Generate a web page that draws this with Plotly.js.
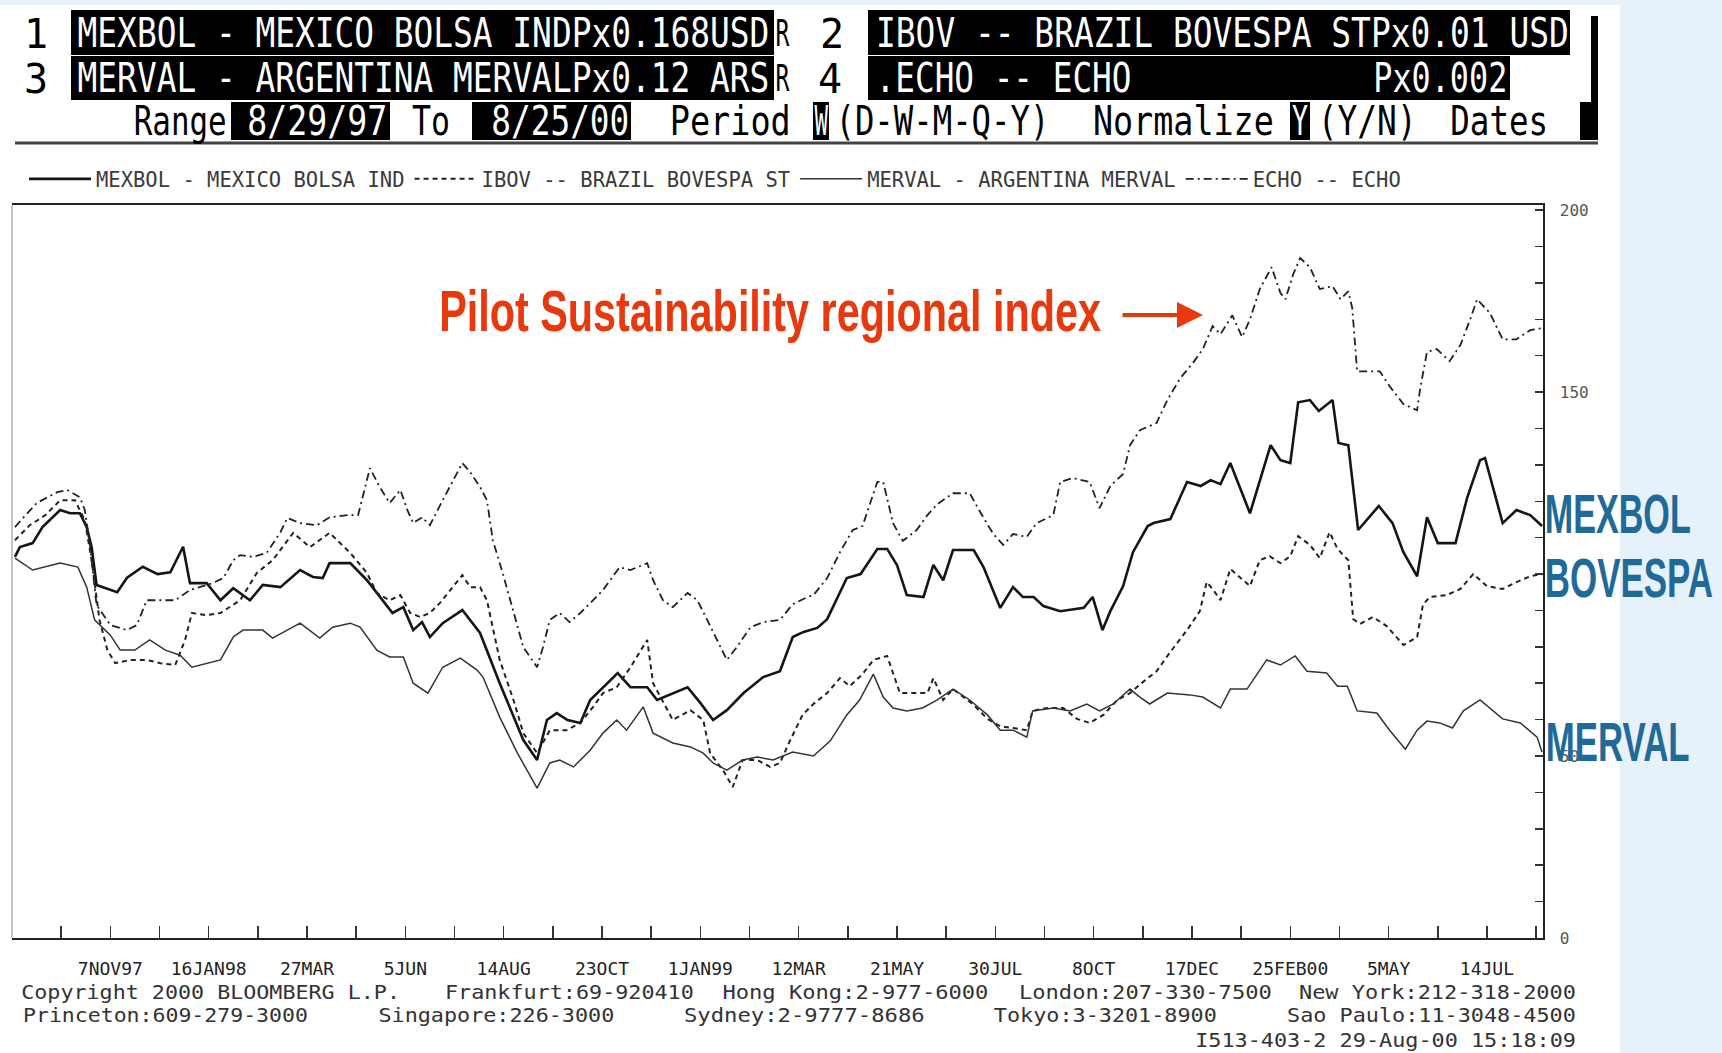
<!DOCTYPE html>
<html>
<head>
<meta charset="utf-8">
<script src="https://cdn.plot.ly/plotly-3.0.1.min.js"></script>
<style>
  html, body { margin: 0; padding: 0; background: #e6f1fa; }
  #chart { width: 1722px; height: 1053px; }
</style>
</head>
<body>
<div id="chart"></div>
<script>
// weekly, normalized, 8/29/97 = week 0 .. 8/25/00 = week 156
var seriesNames = ["MEXBOL - MEXICO BOLSA IND", "IBOV -- BRAZIL BOVESPA ST", "MERVAL - ARGENTINA MERVAL", "ECHO -- ECHO"];
var xTickLabels = ["7NOV97", "16JAN98", "27MAR", "5JUN", "14AUG", "23OCT", "1JAN99", "12MAR",
                   "21MAY", "30JUL", "8OCT", "17DEC", "25FEB00", "5MAY", "14JUL"];
// the 100 label sits under the BOVESPA note in the scan
var yTickLabels = ["0", "50", "", "150", "200"];

var mexbolWeeks = [0.3,0.8,2.1,3.1,4.9,5.9,6.9,7.6,8.1,8.6,10.7,11.7,13.3,14.8,16.1,17.4,18.1,19.8,21.2,22.5,24.2,25.5,27.3,29.3,30.6,31.6,32.3,34.4,36.1,37.7,38.7,
  39.8,40.8,41.7,42.5,43.8,45.8,47.6,49.6,52.0,53.4,54.4,55.4,56.5,57.8,58.8,60.1,61.6,62.9,64.6,65.6,67.2,68.7,70.0,71.3,72.7,74.4,76.4,
  78.1,79.4,80.5,81.9,82.9,84.9,86.3,88.0,89.0,90.0,91.0,92.7,93.7,94.7,95.7,97.8,98.8,100.5,101.8,102.8,103.9,104.9,106.6,109.0,109.9,110.9,111.7,113.0,114.0,115.5,116.1,
  117.8,119.5,120.9,121.9,122.9,123.9,125.9,128.0,129.0,130.0,130.8,132.0,132.9,134.3,134.9,135.9,136.9,139.0,140.4,141.5,142.9,143.9,145.0,146.8,148.0,149.3,149.8,151.6,153.0,154.4,155.6];
var mexbolValues = [104.7,107.4,108.5,112.9,117.6,116.7,116.7,112.9,107.4,97.0,95.0,99.0,102.0,100.0,100.5,107.5,97.5,97.5,92.8,96.1,92.8,97.0,96.4,101.1,99.2,98.9,103.0,103.0,98.3,92.8,89.3,
  90.9,84.6,86.8,82.7,86.5,90.1,83.8,70.0,54.4,48.9,59.9,61.8,59.9,59.1,65.4,68.9,72.8,68.9,68.9,65.4,67.3,68.9,64.6,59.9,62.6,67.3,71.7,
  73.3,82.7,84.1,85.2,87.6,98.9,100.0,106.9,106.9,102.5,94.2,93.7,102.5,98.3,106.6,106.6,101.9,90.7,96.4,93.7,93.7,91.2,89.8,90.7,93.7,84.6,89.8,96.7,106.0,113.2,114.0,
  115.1,125.3,124.2,125.8,124.7,130.5,116.7,135.4,131.3,130.5,147.2,147.8,144.8,147.8,136.0,135.4,112.1,118.7,114.0,106.0,99.4,115.6,108.5,108.5,121.1,131.3,131.9,114.0,117.6,116.2,113.2];

var ibovWeeks = [0.3,1.8,3.4,4.9,6.4,7.4,8.1,8.9,9.7,10.5,12.0,13.7,15.1,16.6,17.6,18.3,19.8,21.2,23.2,24.9,26.5,28.0,28.6,30.3,32.3,34.4,36.1,37.1,38.4,
  39.5,40.5,41.5,42.5,43.5,45.8,46.6,47.6,48.3,49.6,51.0,52.0,53.4,54.7,56.4,57.8,59.1,60.1,61.5,62.9,64.6,65.2,67.2,69.0,70.3,71.0,72.3,73.3,74.3,75.8,77.1,
  78.1,79.1,80.4,81.5,82.9,84.2,85.2,86.5,87.6,89.0,89.6,90.3,91.6,93.1,93.7,94.7,95.7,97.7,99.2,100.5,101.8,103.2,103.8,105.3,106.9,108.3,109.6,111.0,112.4,113.7,115.0,116.4,
  117.8,119.5,120.8,121.5,122.1,122.9,123.9,125.9,126.9,127.9,129.0,130.0,130.8,132.0,133.0,134.0,134.8,135.9,136.4,137.1,138.4,139.8,141.5,142.9,143.5,144.2,145.9,147.3,148.6,150.0,151.6,153.0,154.4,155.6];
var ibovValues = [109.3,113.4,116.2,120.3,120.3,114.8,103.8,87.4,79.1,75.5,76.4,76.4,75.5,75.0,81.9,89.3,88.7,89.3,92.8,100.3,103.8,109.3,111.3,107.4,111.3,105.8,100.3,94.8,92.8,
  94.2,89.3,88.2,89.3,92.0,99.7,96.4,96.4,92.8,76.4,65.4,56.3,50.8,57.1,57.1,59.1,63.5,67.3,68.9,74.4,81.9,70.0,59.9,62.6,59.9,50.8,46.1,41.5,48.9,48.9,47.0,
  48.1,54.1,61.3,64.3,67.3,71.4,69.2,72.5,76.4,77.5,72.5,67.3,67.3,67.3,71.4,65.4,68.4,64.3,60.2,58.2,57.7,57.1,62.4,63.2,63.2,60.2,59.1,61.3,65.4,67.3,70.3,73.3,
  78.6,84.6,89.8,97.8,95.9,92.8,101.4,96.7,103.8,104.9,103.0,104.9,110.4,108.0,104.4,111.5,106.9,103.8,87.6,86.3,88.2,85.7,80.5,82.7,91.7,93.7,94.2,95.9,100.0,96.7,95.9,97.8,99.4,100.0];

var mervalWeeks = [0.3,2.1,4.9,6.7,7.6,8.4,10.0,11.0,12.5,14.0,15.6,17.1,18.3,19.8,21.2,22.5,23.5,25.5,26.5,29.3,31.3,32.6,34.4,35.4,37.1,38.4,
  39.8,40.8,42.3,43.8,45.6,47.3,47.9,49.6,51.4,53.4,54.7,55.7,57.1,58.8,60.1,61.5,62.5,64.2,65.2,67.2,69.0,70.3,71.3,72.7,74.3,75.8,77.4,
  79.4,81.5,83.2,84.9,86.2,87.6,88.6,89.6,91.0,92.6,94.1,95.7,97.4,99.2,100.5,101.8,103.2,103.8,105.9,107.6,109.3,110.6,112.0,113.7,114.7,115.7,117.5,
  119.8,121.1,122.9,123.9,125.6,127.6,129.0,130.5,131.7,133.7,134.8,135.8,136.8,138.8,140.1,141.7,142.9,143.9,145.2,146.5,147.6,149.3,150.6,151.6,153.4,155.1,155.6];
var mervalValues = [104.4,101.1,103.0,101.9,96.4,87.4,83.2,79.1,79.1,81.9,79.1,77.7,74.4,75.5,76.4,82.7,84.6,84.6,82.4,86.5,82.4,85.4,86.5,85.4,79.1,77.2,
  77.2,70.0,67.3,74.4,76.9,73.6,71.7,60.7,50.8,41.2,48.1,48.9,47.0,51.6,56.3,59.9,57.1,63.5,56.3,53.6,52.5,50.8,48.1,46.1,48.9,49.7,48.9,
  51.1,50.0,54.1,61.3,65.4,72.5,66.2,63.2,62.4,63.2,65.4,68.4,65.4,61.3,57.1,57.1,55.2,62.4,63.2,62.4,64.3,62.4,64.3,68.4,66.2,64.3,67.3,
  66.8,66.2,63.2,68.4,68.4,76.4,75.0,77.5,73.3,72.8,69.2,69.2,62.4,61.8,57.1,51.9,57.1,59.6,59.1,57.7,62.4,65.4,62.6,60.2,59.1,55.2,51.1];

var echoWeeks = [0.3,2.5,4.6,5.6,6.9,7.4,7.9,8.6,10.0,11.7,12.7,13.7,15.1,16.6,18.1,20.4,21.5,22.5,23.2,24.5,25.9,27.3,28.0,29.3,31.0,32.3,34.1,35.2,36.4,37.4,38.4,
  39.5,40.2,40.8,41.7,42.5,43.8,45.8,46.6,47.6,48.3,48.9,49.9,51.0,52.0,53.4,54.0,54.7,55.7,56.7,57.8,58.8,60.1,61.8,62.9,64.6,65.2,66.2,67.2,68.7,69.7,70.7,72.7,73.7,75.1,76.4,
  78.1,79.4,80.9,81.5,82.9,84.2,85.5,86.5,88.0,88.6,89.6,90.6,92.0,93.1,94.1,95.7,97.4,98.4,99.8,100.8,101.8,103.2,104.2,105.9,106.6,107.9,109.6,110.6,111.7,113.0,113.7,114.7,116.4,117.5,
  118.8,120.1,121.1,122.1,122.9,124.1,125.1,125.9,126.9,128.1,129.0,129.5,130.3,131.0,132.0,133.0,134.3,135.1,135.9,136.3,136.8,138.1,139.1,140.1,141.5,142.9,143.2,143.9,144.9,146.2,147.3,148.3,149.0,150.3,151.6,153.0,154.4,155.6];
var echoValues = [112.9,119.5,122.5,123.1,121.1,117.6,108.5,91.5,86.0,84.6,86.0,92.8,92.8,92.8,95.6,97.5,98.9,103.8,105.2,104.7,105.8,111.5,115.4,114.0,113.4,115.6,116.2,116.2,129.1,123.9,119.5,
  123.1,117.6,114.0,115.6,113.4,120.3,130.5,128.0,123.9,120.3,109.3,100.3,89.3,79.9,74.4,79.9,87.4,89.3,86.8,89.3,92.0,95.6,101.9,101.1,103.0,98.3,92.8,90.9,94.8,92.8,87.4,76.4,79.9,85.4,86.8,
  87.4,91.7,93.7,94.2,98.9,106.0,112.1,113.2,125.3,125.3,114.0,109.1,112.1,116.2,119.2,122.2,122.2,117.3,111.0,108.0,111.0,110.2,114.0,116.2,125.3,126.4,125.3,118.1,124.2,127.5,135.4,139.5,141.5,147.8,
  153.8,158.0,161.8,168.1,165.9,171.1,165.1,170.0,178.3,184.3,177.2,175.5,182.4,186.8,184.3,178.3,179.1,175.5,177.7,173.1,155.7,155.7,155.7,151.6,146.7,145.0,150.8,161.0,161.8,158.5,162.9,170.0,175.5,171.7,164.5,164.5,167.0,167.6];

// page geometry (pixels) of the plot box
var W = 1722, H = 1053, PL = 12, PR = 1543, PT = 205, PB = 938;
function px(x) { return (x - PL) / (PR - PL); }
function py(y) { return (PB - y) / (PB - PT); }

var MONO = "DejaVu Sans Mono, Liberation Mono, monospace";
var BOLD = "Liberation Sans Narrow, Liberation Sans, Arial, sans-serif";
var annotations = [];
var fitWidths = [];   // target pixel width for each annotation (null = natural)
var shapes = [];

function label(text, cx, cy, size, color, family, weight, fitW) {
  annotations.push({
    xref: "paper", yref: "paper", x: px(cx), y: py(cy),
    xanchor: "center", yanchor: "middle", showarrow: false, text: text,
    font: {family: family || MONO, size: size, color: color, weight: weight || 400}
  });
  fitWidths.push(fitW || null);
}
function box(x0, y0, x1, y1, fill, layer) {
  shapes.push({type: "rect", xref: "paper", yref: "paper",
    x0: px(x0), x1: px(x1), y0: py(y1), y1: py(y0),
    fillcolor: fill, line: {width: 0}, layer: layer || "above"});
}
function hline(x0, x1, y, color, width) {
  shapes.push({type: "line", xref: "paper", yref: "paper", x0: px(x0), x1: px(x1), y0: py(y), y1: py(y),
    line: {color: color, width: width}});
}

// scanned white sheet
box(0, 5, 1620, 1053, "#ffffff", "below");

// Bloomberg header
box(71, 10, 774, 55, "#000");
box(868, 10, 1570, 55, "#000");
box(71, 56, 774, 100, "#000");
box(868, 56, 1510, 100, "#000");
box(1591, 16, 1598, 140, "#000");
box(231, 102, 390, 140, "#000");
box(472, 102, 631, 140, "#000");
box(813, 102, 829, 140, "#000");
box(1290, 102, 1310, 140, "#000");
box(1580, 102, 1598, 140, "#000");
hline(15, 1598, 143, "#444", 3);
// faint left frame of the plot box
shapes.push({type: "line", xref: "paper", yref: "paper", x0: 0, x1: 0, y0: 0, y1: 1,
  line: {color: "#9a9a9a", width: 1.2}});

label("1", 36, 34, 40, "#000");
label("MEXBOL - MEXICO BOLSA INDPx0.168USD", 423, 33, 40, "#fff", MONO, 400, 692);
label("R", 782, 33, 38, "#000", MONO, 400, 14);
label("2", 832, 34, 40, "#000");
label("IBOV -- BRAZIL BOVESPA STPx0.01 USD", 1222, 33, 40, "#fff", MONO, 400, 693);
label("3", 36, 79, 40, "#000");
label("MERVAL - ARGENTINA MERVALPx0.12 ARS", 423, 78, 40, "#fff", MONO, 400, 692);
label("R", 782, 78, 38, "#000", MONO, 400, 14);
label("4", 830, 79, 40, "#000");
label(".ECHO -- ECHO", 1003, 78, 40, "#fff", MONO, 400, 256);
label("Px0.002", 1440, 78, 40, "#fff", MONO, 400, 134);
label("Range", 180, 121, 40, "#000", MONO, 400, 93);
label("8/29/97", 317, 121, 40, "#fff", MONO, 400, 140);
label("To", 431, 121, 40, "#000", MONO, 400, 38);
label("8/25/00", 560, 121, 40, "#fff", MONO, 400, 138);
label("Period", 730, 121, 40, "#000", MONO, 400, 121);
label("W", 821, 121, 40, "#fff", MONO, 400, 14);
label("(D-W-M-Q-Y)", 942, 121, 40, "#000", MONO, 400, 214);
label("Normalize", 1183, 121, 40, "#000", MONO, 400, 181);
label("Y", 1300, 121, 40, "#fff", MONO, 400, 16);
label("(Y/N)", 1367, 121, 40, "#000", MONO, 400, 99);
label("Dates", 1499, 121, 40, "#000", MONO, 400, 98);

// overlay notes
label("Pilot Sustainability regional index", 770, 310, 58, "#e8380d", BOLD, 700, 662);
annotations.push({xref: "paper", yref: "paper", x: px(1203), y: py(315), ax: -82, ay: 0,
  text: "", showarrow: true, arrowhead: 2, arrowsize: 1.3, arrowwidth: 4, arrowcolor: "#e8380d"});
fitWidths.push(null);
label("MEXBOL", 1618, 513, 56, "#1f6a99", BOLD, 700, 146);
label("BOVESPA", 1629, 577, 56, "#1f6a99", BOLD, 700, 168);
label("MERVAL", 1617, 741, 56, "#1f6a99", BOLD, 700, 144);

// footer
label("Copyright 2000 BLOOMBERG L.P.", 211, 992, 20, "#333", MONO, 400, 379);
label("Frankfurt:69-920410", 569, 992, 20, "#333", MONO, 400, 249);
label("Hong Kong:2-977-6000", 855, 992, 20, "#333", MONO, 400, 266);
label("London:207-330-7500", 1145, 992, 20, "#333", MONO, 400, 253);
label("New York:212-318-2000", 1437, 992, 20, "#333", MONO, 400, 277);
label("Princeton:609-279-3000", 165, 1015, 20, "#333", MONO, 400, 285);
label("Singapore:226-3000", 497, 1015, 20, "#333", MONO, 400, 236);
label("Sydney:2-9777-8686", 804, 1015, 20, "#333", MONO, 400, 241);
label("Tokyo:3-3201-8900", 1105, 1015, 20, "#333", MONO, 400, 223);
label("Sao Paulo:11-3048-4500", 1431, 1015, 20, "#333", MONO, 400, 289);
label("I513-403-2 29-Aug-00 15:18:09", 1385, 1040, 20, "#333", MONO, 400, 381);

// axis ticks: every 5 weeks on x (labels every 10), every 10 on y (labels every 50)
var xTickVals = [], xTickText = [];
for (var w = 5; w <= 155; w += 5) {
  xTickVals.push(w);
  xTickText.push(w % 10 === 0 ? (xTickLabels[w / 10 - 1] || "") : "");
}
var yTickVals = [], yTickText = [];
for (var v = 0; v <= 200; v += 10) {
  yTickVals.push(v);
  yTickText.push(v % 50 === 0 ? yTickLabels[v / 50] : "");
}

var traces = [
  {x: mexbolWeeks, y: mexbolValues, name: seriesNames[0], mode: "lines",
   line: {color: "#151515", width: 2.6}},
  {x: ibovWeeks, y: ibovValues, name: seriesNames[1], mode: "lines",
   line: {color: "#222", width: 2, dash: "5px,4px"}},
  {x: mervalWeeks, y: mervalValues, name: seriesNames[2], mode: "lines",
   line: {color: "#333", width: 1.5}},
  {x: echoWeeks, y: echoValues, name: seriesNames[3], mode: "lines",
   line: {color: "#222", width: 1.8, dash: "8px,4px,2px,4px"}}
];

var layout = {
  width: W, height: H,
  margin: {l: PL, r: W - PR, t: PT, b: H - PB, pad: 0},
  paper_bgcolor: "#e6f1fa",
  plot_bgcolor: "#ffffff",
  showlegend: true,
  legend: {orientation: "h", x: px(24), y: py(179), xanchor: "left", yanchor: "middle",
    font: {family: MONO, size: 20.5, color: "#3a3a3a"}, bgcolor: "rgba(0,0,0,0)",
    itemwidth: 62, traceorder: "normal"},
  xaxis: {range: [0, 155.7], tickvals: xTickVals, ticktext: xTickText,
    ticks: "inside", ticklen: 12, tickwidth: 1.5, tickcolor: "#333",
    showline: true, mirror: true, linecolor: "#222", linewidth: 1.6,
    showgrid: false, zeroline: false, ticklabelstandoff: 14,
    tickfont: {family: MONO, size: 18, color: "#222"}},
  yaxis: {range: [0, 201.4], side: "right", tickvals: yTickVals, ticktext: yTickText,
    ticks: "inside", ticklen: 8, tickwidth: 1.5, tickcolor: "#333",
    showline: true, mirror: false, linecolor: "#222", linewidth: 1.6,
    showgrid: false, zeroline: false, ticklabelstandoff: 12,
    tickfont: {family: MONO, size: 16, color: "#555"}},
  shapes: shapes,
  annotations: annotations
};

Plotly.newPlot("chart", traces, layout, {staticPlot: true}).then(function (gd) {
  // squeeze texts horizontally to the condensed widths of the scan
  gd.querySelectorAll(".annotation").forEach(function (g) {
    var i = +g.getAttribute("data-index");
    var target = fitWidths[i];
    var t = g.querySelector("text.annotation-text");
    if (!target || !t) return;
    var bw = t.getBBox().width;
    if (!bw) return;
    t.style.transformBox = "fill-box";
    t.style.transformOrigin = "center";
    t.style.transform = "scaleX(" + (target / bw) + ")";
  });
});
</script>
</body>
</html>
